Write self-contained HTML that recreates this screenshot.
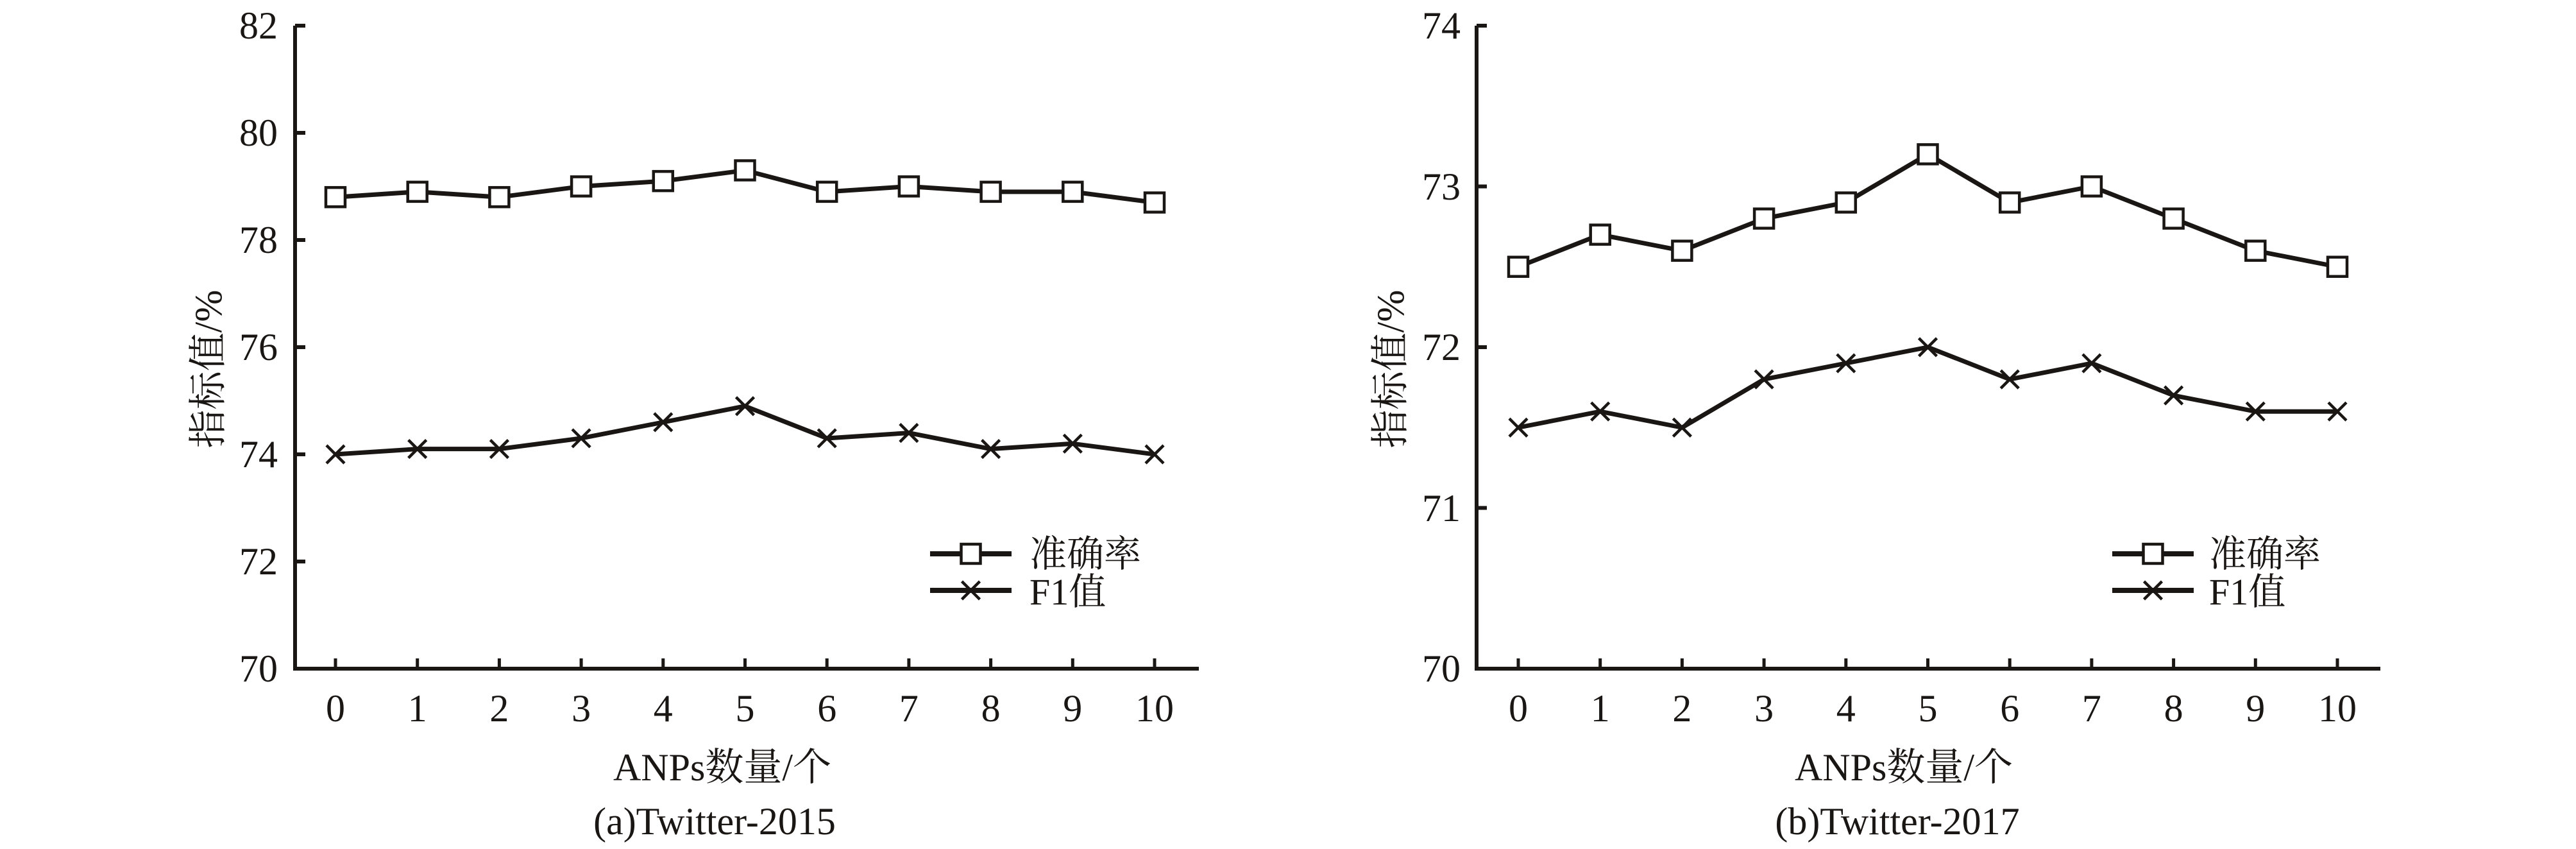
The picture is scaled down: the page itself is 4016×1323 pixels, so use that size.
<!DOCTYPE html>
<html><head><meta charset="utf-8"><style>
html,body{margin:0;padding:0;background:#fff;}
svg{display:block;}
text{font-family:"Liberation Serif","Noto Serif CJK SC",serif;fill:#1a1614;}
</style></head><body>
<svg id="s" width="4016" height="1323" viewBox="0 0 4016 1323" xmlns="http://www.w3.org/2000/svg">
<g font-size="60" text-anchor="end">
<text x="433" y="60">82</text><text x="433" y="227">80</text><text x="433" y="394">78</text><text x="433" y="561">76</text><text x="433" y="728">74</text><text x="433" y="895">72</text><text x="433" y="1062">70</text>
<text x="2277" y="60">74</text><text x="2277" y="311">73</text><text x="2277" y="561">72</text><text x="2277" y="812">71</text><text x="2277" y="1062">70</text>
</g>
<g font-size="60" text-anchor="middle" id="xl"></g>
<g font-size="60" text-anchor="middle">
<text x="1126" y="1216">ANPs数量/个</text>
<text x="1114" y="1300">(a)Twitter-2015</text>
<text x="2968" y="1216">ANPs数量/个</text>
<text x="2958" y="1300">(b)Twitter-2017</text>
<text transform="translate(345,575) rotate(-90)">指标值/%</text>
<text transform="translate(2188,575) rotate(-90)">指标值/%</text>
</g>
<g font-size="58">
<text x="1605" y="883">准确率</text><text x="1605" y="942">F1值</text>
<text x="3444" y="883">准确率</text><text x="3444" y="942">F1值</text>
</g>
<g id="g"></g>
</svg>
<script>
var g=document.getElementById('g'),xl=document.getElementById('xl'),NS='http://www.w3.org/2000/svg';
function el(t,a,p){var e=document.createElementNS(NS,t);for(var k in a)e.setAttribute(k,a[k]);(p||g).appendChild(e);return e;}
function panel(ax,x0,xend,ymin,ymax,acc,f1){
 var top=40,bot=1042,dx=127.7;
 el('path',{d:'M'+ax+' '+top+' V'+bot+' H'+xend,stroke:'#1a1614','stroke-width':6,fill:'none'});
 var n=Math.round(ymax-ymin)/(ymax-ymin>5?2:1);
 var step=(ymax-ymin)>5?2:1;
 for(var v=ymin;v<=ymax;v+=step){var y=bot-(v-ymin)/(ymax-ymin)*(bot-top);el('line',{x1:ax,x2:ax+16,y1:y,y2:y,stroke:'#1a1614','stroke-width':6});}
 for(var i=0;i<=10;i++){var x=x0+i*dx;el('line',{x1:x,x2:x,y1:bot,y2:bot-16,stroke:'#1a1614','stroke-width':5});
  var t=el('text',{x:x,y:1124},xl);t.textContent=i;}
 function Y(v){return bot-(v-ymin)/(ymax-ymin)*(bot-top);}
 [acc,f1].forEach(function(d,k){
  var pts=d.map(function(v,i){return (x0+i*dx)+','+Y(v);}).join(' ');
  el('polyline',{points:pts,fill:'none',stroke:'#1a1614','stroke-width':7,'stroke-linejoin':'round'});
  d.forEach(function(v,i){var x=x0+i*dx,y=Y(v);
   if(k==0)el('rect',{x:x-15,y:y-15,width:30,height:30,fill:'#fff',stroke:'#1a1614','stroke-width':4.5});
   else el('path',{d:'M'+(x-14)+' '+(y-14)+'L'+(x+14)+' '+(y+14)+'M'+(x+14)+' '+(y-14)+'L'+(x-14)+' '+(y+14),stroke:'#1a1614','stroke-width':4.5});
  });
 });
}
panel(460,523,1869,70,82,[78.8,78.9,78.8,79.0,79.1,79.3,78.9,79.0,78.9,78.9,78.7],[74.0,74.1,74.1,74.3,74.6,74.9,74.3,74.4,74.1,74.2,74.0]);
panel(2302,2367,3711,70,74,[72.5,72.7,72.6,72.8,72.9,73.2,72.9,73.0,72.8,72.6,72.5],[71.5,71.6,71.5,71.8,71.9,72.0,71.8,71.9,71.7,71.6,71.6]);
function leg(x1,x2){
 el('line',{x1:x1,x2:x2,y1:863,y2:863,stroke:'#1a1614','stroke-width':8});
 var c=(x1+x2)/2;el('rect',{x:c-15,y:848,width:30,height:30,fill:'#fff',stroke:'#1a1614','stroke-width':4.5});
 el('line',{x1:x1,x2:x2,y1:920,y2:920,stroke:'#1a1614','stroke-width':8});
 el('path',{d:'M'+(c-14)+' 906L'+(c+14)+' 934M'+(c+14)+' 906L'+(c-14)+' 934',stroke:'#1a1614','stroke-width':4.5});
}
leg(1450,1577);leg(3293,3420);
</script>
</body></html>
